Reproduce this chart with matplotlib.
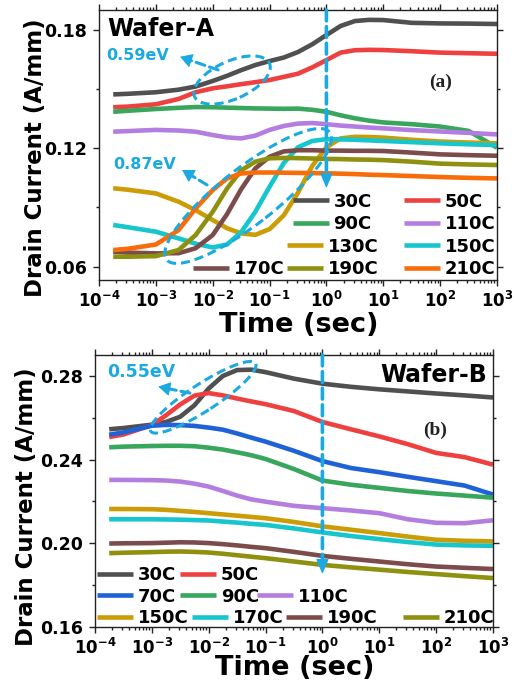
import numpy as np
import matplotlib
matplotlib.use('Agg')
import matplotlib.pyplot as plt
from matplotlib.patches import Ellipse
from matplotlib.legend import Legend
from matplotlib import transforms, font_manager
from matplotlib.ticker import MultipleLocator, FuncFormatter, LogLocator, NullFormatter, FormatStrFormatter

plt.rcParams['font.family'] = ['DejaVu Sans']
plt.rcParams['font.weight'] = 'bold'
plt.rcParams['mathtext.fontset'] = 'dejavusans'

# ---------------- data: Wafer-A (panel a) ----------------
log_t_a = [-3.75, -3.5, -3.0, -2.6, -2.3, -2.0, -1.75, -1.5, -1.25, -1.0, -0.75,
           -0.5, -0.25, 0.0, 0.25, 0.5, 0.75, 1.0, 1.5, 2.0, 2.5, 3.0]
labels_a = ['30C', '50C', '90C', '110C', '130C', '150C', '170C', '190C', '210C']
a_30 = [.1473, .1476, .1484, .1497, .1513, .1541, .1567, .1596, .1622, .1642, .1660,
        .1688, .1727, .1774, .1820, .1845, .1851, .1850, .1836, .1833, .1832, .1830]
a_50 = [.1408, .1411, .1423, .1450, .1484, .1504, .1514, .1525, .1535, .1546, .1562,
        .1578, .1610, .1647, .1685, .1697, .1699, .1698, .1692, .1685, .1682, .1679]
a_90 = [.1385, .1390, .1399, .1405, .1409, .1408, .1406, .1404, .1402, .1401, .1400,
        .1401, .1395, .1385, .1367, .1352, .1340, .1331, .1322, .1310, .1288, .1203]
a_110 = [.1284, .1287, .1293, .1290, .1284, .1267, .1255, .1250, .1264, .1293, .1313,
         .1325, .1328, .1322, .1315, .1310, .1305, .1301, .1292, .1285, .1278, .1270]
a_130 = [.0997, .0990, .0971, .0929, .0886, .0836, .0795, .0768, .0761, .0790, .0860,
         .0975, .1110, .1205, .1250, .1258, .1257, .1254, .1243, .1234, .1229, .1225]
a_150 = [.0811, .0800, .0777, .0743, .0716, .0697, .0712, .0774, .0878, .1005, .1125,
         .1205, .1237, .1246, .1245, .1243, .1240, .1237, .1231, .1225, .1220, .1216]
a_170 = [.0675, .0671, .0667, .0668, .0693, .0760, .0865, .0992, .1098, .1157, .1184,
         .1190, .1190, .1188, .1188, .1187, .1187, .1186, .1178, .1169, .1165, .1162]
a_190 = [.0650, .0650, .0653, .0684, .0760, .0878, .0995, .1088, .1132, .1149, .1151,
         .1150, .1148, .1146, .1145, .1143, .1142, .1140, .1132, .1122, .1118, .1115]
a_210 = [.0684, .0690, .0712, .0785, .0895, .0988, .1047, .1072, .1077, .1077, .1076,
         .1075, .1074, .1073, .1071, .1069, .1066, .1064, .1059, .1054, .1050, .1047]
series_a = [a_30, a_50, a_90, a_110, a_130, a_150, a_170, a_190, a_210]

# ---------------- data: Wafer-B (panel b) ----------------
log_t_b = [-3.75, -3.5, -3.0, -2.75, -2.5, -2.25, -2.0, -1.75, -1.5, -1.25, -1.0,
           -0.5, 0.0, 0.5, 1.0, 1.5, 2.0, 2.5, 3.0]
labels_b = ['30C', '50C', '70C', '90C', '110C', '150C', '170C', '190C', '210C']
b_30 = [.2545, .2551, .2567, .2580, .2605, .2660, .2740, .2800, .2828, .2830, .2818,
        .2787, .2763, .2748, .2736, .2726, .2716, .2707, .2697]
b_50 = [.2508, .2520, .2565, .2612, .2664, .2706, .2718, .2707, .2692, .2678, .2665,
        .2632, .2580, .2545, .2511, .2474, .2432, .2412, .2376]
b_70 = [.2519, .2530, .2562, .2566, .2565, .2561, .2553, .2543, .2525, .2505, .2486,
        .2442, .2393, .2360, .2340, .2318, .2297, .2276, .2233]
b_90 = [.2459, .2462, .2465, .2466, .2466, .2464, .2457, .2448, .2435, .2421, .2403,
        .2355, .2300, .2280, .2265, .2250, .2238, .2228, .2218]
b_110 = [.2303, .2303, .2302, .2300, .2295, .2285, .2271, .2250, .2228, .2210, .2199,
         .2179, .2168, .2157, .2144, .2115, .2098, .2096, .2110]
b_150 = [.2164, .2164, .2163, .2160, .2155, .2150, .2144, .2138, .2132, .2126, .2120,
         .2102, .2081, .2065, .2049, .2032, .2017, .2012, .2009]
b_170 = [.2115, .2115, .2115, .2114, .2113, .2111, .2109, .2104, .2099, .2093, .2088,
         .2071, .2052, .2035, .2020, .2006, .1994, .1990, .1988]
b_190 = [.1999, .2000, .2001, .2003, .2005, .2004, .2001, .1996, .1990, .1983, .1977,
         .1959, .1940, .1926, .1913, .1900, .1889, .1883, .1877]
b_210 = [.1953, .1955, .1958, .1960, .1961, .1959, .1956, .1950, .1943, .1936, .1929,
         .1913, .1897, .1885, .1874, .1863, .1853, .1843, .1834]
series_b = [b_30, b_50, b_70, b_90, b_110, b_150, b_170, b_190, b_210]

# ---------------- colours ----------------
C = {'30C': '#505050', '50C': '#ef4040', '70C': '#1f62d8', '90C': '#38a65c',
     '110C': '#b47ee0', '130C': '#cc9c06', '150C': '#16c6cc', '170C': '#7c4c4c',
     '190C': '#8e9010', '210C': '#f86c0a'}
colors_b = {'30C': C['30C'], '50C': C['50C'], '70C': C['70C'], '90C': C['90C'],
            '110C': C['110C'], '150C': C['130C'], '170C': C['150C'],
            '190C': C['170C'], '210C': C['190C']}
ANN = '#1ba9e2'

# legend layout (axes fractions of handle start, row centre)
leg_pos_a = {'30C': (.487, .290), '50C': (.766, .290), '90C': (.487, .206),
             '110C': (.766, .206), '130C': (.472, .123), '150C': (.766, .123),
             '170C': (.236, .040), '190C': (.472, .040), '210C': (.766, .040)}
leg_pos_b = {'30C': (.005, .191), '50C': (.214, .191), '70C': (.005, .112),
             '90C': (.214, .112), '110C': (.407, .112), '150C': (.005, .032),
             '170C': (.244, .032), '190C': (.480, .032), '210C': (.774, .032)}


def has_font(name):
    try:
        font_manager.findfont(font_manager.FontProperties(family=name),
                              fallback_to_default=False)
        return True
    except Exception:
        return False


if has_font('Liberation Sans Narrow'):
    ylab_kw = dict(family=['Liberation Sans Narrow', 'DejaVu Sans'], fontsize=23)
else:
    ylab_kw = dict(family=['DejaVu Sans'], fontsize=16.5)

fig = plt.figure(figsize=(5.14, 6.90), dpi=100)
axA = fig.add_axes([0.1926, 0.5942, 0.7743, 0.3913])
axB = fig.add_axes([0.1848, 0.0913, 0.7743, 0.3942])


def log_fmt(v, pos):
    e = int(round(np.log10(v)))
    return r'$\mathbf{10^{%d}}$' % e


def style(ax, ylim, major, minor):
    ax.set_xscale('log')
    ax.set_xlim(1e-4, 1e3)
    ax.set_ylim(*ylim)
    ax.xaxis.set_major_locator(LogLocator(base=10, numticks=20))
    ax.xaxis.set_minor_locator(LogLocator(base=10, subs=np.arange(2, 10), numticks=20))
    ax.xaxis.set_major_formatter(FuncFormatter(log_fmt))
    ax.xaxis.set_minor_formatter(NullFormatter())
    ax.yaxis.set_major_locator(MultipleLocator(major))
    ax.yaxis.set_minor_locator(MultipleLocator(minor))
    ax.yaxis.set_major_formatter(FormatStrFormatter('%.2f'))
    ax.tick_params(which='both', direction='out', top=True, right=True, width=1.0,
                   color='#222222')
    ax.tick_params(which='major', length=4.5, pad=3)
    ax.tick_params(which='minor', length=2.5)
    ax.tick_params(axis='x', labelsize=12)
    ax.tick_params(axis='y', labelsize=12.5, pad=4)
    for s in ax.spines.values():
        s.set_linewidth(1.0)
        s.set_color('#222222')
    ax.set_xlabel('Time (sec)', fontsize=19.5, fontweight='bold', va='baseline')
    ax.set_ylabel('Drain Current (A/mm)', fontweight='bold', va='baseline', **ylab_kw)


def dashed_ellipse(ax, xd, yd, w_px, h_px, angle):
    tr = fig.dpi_scale_trans + transforms.ScaledTranslation(xd, yd, ax.transData)
    e = Ellipse((0, 0), w_px / 100, h_px / 100, angle=angle, transform=tr,
                fill=False, ls=(0, (3, 1.6)), lw=2.2, ec=ANN, zorder=5)
    ax.add_patch(e)


def dashed_arrow(ax, tip, start, head_len=9.0, head_w=0.22, lw=2.2):
    # dashed shaft (stops under the head) + solid filled head
    ax.annotate('', xy=tip, xytext=start,
                arrowprops=dict(arrowstyle='-', ls=(0, (3, 1.6)), lw=lw, color=ANN,
                                shrinkA=0, shrinkB=head_len * 0.6),
                zorder=6)
    p_tip = ax.transData.transform(tip)
    p_start = ax.transData.transform(start)
    d = p_start - p_tip
    d = d / np.hypot(*d)
    L = head_len  # points
    ax.annotate('', xy=tip, xytext=(d[0] * L, d[1] * L), textcoords='offset points',
                arrowprops=dict(arrowstyle='-|>,head_length=%g,head_width=%g'
                                % (L / 20.0, head_w),
                                lw=0.8, color=ANN, shrinkA=0, shrinkB=0,
                                mutation_scale=20),
                zorder=7)


def add_entries(ax, lines, labels, pos):
    for ln, lab in zip(lines, labels):
        leg = Legend(ax, [ln], [lab], loc='center left', bbox_to_anchor=pos[lab],
                     frameon=False, borderpad=0, borderaxespad=0, handlelength=2.0,
                     handletextpad=0.25, prop=dict(size=13, weight='bold'))
        ax.add_artist(leg)


# ---------------- panel (a) ----------------
style(axA, (0.0532, 0.1901), 0.06, 0.03)
lines_a = []
for lab, vals in zip(labels_a, series_a):
    ln, = axA.plot(10 ** np.array(log_t_a), vals, color=C[lab], lw=3.3,
                   solid_joinstyle='round', solid_capstyle='butt')
    lines_a.append(ln)
add_entries(axA, lines_a, labels_a, leg_pos_a)

axA.yaxis.set_label_coords(-0.143, 0.452)
axA.xaxis.set_label_coords(0.502, -0.193)

dashed_arrow(axA, (1.0, 0.0998), (1.0, 0.1901), head_len=9.5, head_w=0.2, lw=2.6)
dashed_ellipse(axA, 10 ** -1.66, 0.1546, 82, 38, 24)
dashed_ellipse(axA, 10 ** -1.377, 0.0958, 207, 56, 38)
dashed_arrow(axA, (10 ** -2.574, 0.1664), (10 ** -1.905, 0.1597), head_len=7.5)
dashed_arrow(axA, (10 ** -2.539, 0.1090), (10 ** -2.099, 0.1014), head_len=7.5)

axA.text(0.018, 0.833, '0.59eV', transform=axA.transAxes, color=ANN,
         fontsize=11.5, fontweight='bold', va='center', ha='left')
axA.text(0.035, 0.426, '0.87eV', transform=axA.transAxes, color=ANN,
         fontsize=11.5, fontweight='bold', va='center', ha='left')
axA.text(0.02, 0.93, 'Wafer-A', transform=axA.transAxes, color='black',
         fontsize=17, fontweight='bold', va='center', ha='left')
axA.text(0.857, 0.733, '(a)', transform=axA.transAxes, color='#222222',
         fontsize=14, fontweight='bold', va='center', ha='center',
         family=['Liberation Serif', 'DejaVu Serif'])

# ---------------- panel (b) ----------------
style(axB, (0.16, 0.29), 0.04, 0.02)
lines_b = []
for lab, vals in zip(labels_b, series_b):
    ln, = axB.plot(10 ** np.array(log_t_b), vals, color=colors_b[lab], lw=3.3,
                   solid_joinstyle='round', solid_capstyle='butt')
    lines_b.append(ln)
add_entries(axB, lines_b, labels_b, leg_pos_b)

axB.yaxis.set_label_coords(-0.156, 0.441)
axB.xaxis.set_label_coords(0.502, -0.176)

dashed_arrow(axB, (1.0, 0.1853), (1.0, 0.29), head_len=9.5, head_w=0.2, lw=2.6)
dashed_ellipse(axB, 10 ** -2.097, 0.2698, 125, 27, 33)
dashed_arrow(axB, (10 ** -2.887, 0.2749), (10 ** -2.33, 0.2718), head_len=7.5)

axB.text(0.030, 0.9375, '0.55eV', transform=axB.transAxes, color=ANN,
         fontsize=12.5, fontweight='bold', va='center', ha='left')
axB.text(0.985, 0.926, 'Wafer-B', transform=axB.transAxes, color='black',
         fontsize=17, fontweight='bold', va='center', ha='right')
axB.text(0.854, 0.724, '(b)', transform=axB.transAxes, color='#222222',
         fontsize=14, fontweight='bold', va='center', ha='center',
         family=['Liberation Serif', 'DejaVu Serif'])

fig.savefig('out.png', dpi=100)
